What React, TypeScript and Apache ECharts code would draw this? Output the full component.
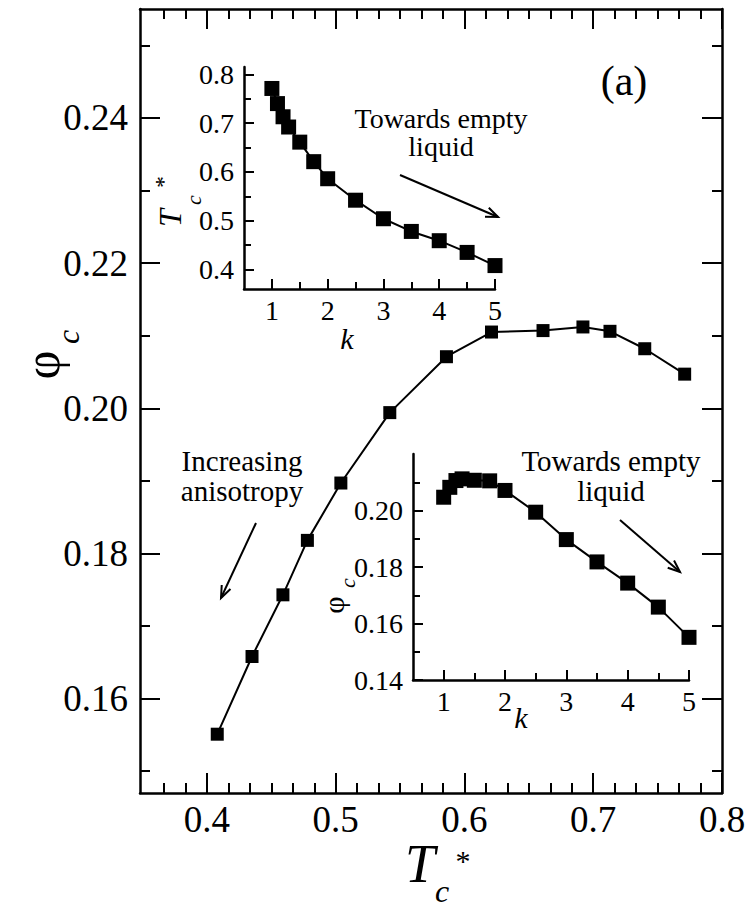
import React, { useEffect, useRef } from "react";
import * as echarts from "echarts";

// ---- data ----
const kValues = [1, 1.1, 1.2, 1.3, 1.5, 1.75, 2, 2.5, 3, 3.5, 4, 4.5, 5];
const tcValues = [0.771, 0.74, 0.713, 0.692, 0.661, 0.621, 0.586, 0.542, 0.504, 0.478, 0.459, 0.435, 0.408];
const phiValues = [0.2047, 0.2082, 0.2106, 0.2112, 0.2107, 0.2105, 0.2071, 0.1994, 0.1897, 0.1818, 0.1743, 0.1658, 0.1551];

// ---- ticks ----
const mainXMajor = [0.4, 0.5, 0.6, 0.7, 0.8];
const mainYMajor = [0.16, 0.18, 0.2, 0.22, 0.24];
const mainYMinor = [0.15, 0.17, 0.19, 0.21, 0.23, 0.25];
const kMajor = [1, 2, 3, 4, 5];
const kMinor = [1.5, 2.5, 3.5, 4.5];
const inset1YMajor = [0.4, 0.5, 0.6, 0.7, 0.8];
const inset1YMinor = [0.45, 0.55, 0.65, 0.75];
const inset2YMajor = [0.14, 0.16, 0.18, 0.2];
const inset2YMinor = [0.15, 0.17, 0.19, 0.21];

const mainXMinor: number[] = [];
for (let n = -2; n <= 24; n++) {
  if (n % 6 !== 0) mainXMinor.push(0.4 + n / 60);
}

const SERIF = "'Liberation Serif', 'DejaVu Serif', serif";
const BLACK = "#000";

function axis(
  dim: "x" | "y",
  gridIndex: number,
  position: string,
  min: number,
  max: number,
  ticks: number[],
  tickLen: number,
  showLine: boolean,
  label: null | { digits: number; size: number; margin: number }
) {
  const a: any = {
    type: "value",
    gridIndex,
    position,
    min,
    max,
    splitLine: { show: false },
    axisLine: { show: showLine, onZero: false, lineStyle: { color: BLACK, width: 2.5 } },
    axisTick: {
      show: true,
      inside: true,
      length: tickLen,
      customValues: ticks,
      lineStyle: { color: BLACK, width: 2 },
    },
    axisLabel: label
      ? {
          show: true,
          customValues: ticks,
          margin: label.margin,
          fontSize: label.size,
          fontFamily: SERIF,
          color: BLACK,
          formatter: (v: number) => (label.digits === 0 ? String(Math.round(v)) : v.toFixed(label.digits)),
        }
      : { show: false },
  };
  return a;
}

function arrow(x1: number, y1: number, x2: number, y2: number, h = 13) {
  const ang = Math.atan2(y2 - y1, x2 - x1);
  const sp = 0.38;
  return [
    { type: "line", shape: { x1, y1, x2, y2 }, style: { stroke: BLACK, lineWidth: 2 } },
    {
      type: "polyline",
      shape: {
        points: [
          [x2 - h * Math.cos(ang - sp), y2 - h * Math.sin(ang - sp)],
          [x2, y2],
          [x2 - h * Math.cos(ang + sp), y2 - h * Math.sin(ang + sp)],
        ],
      },
      style: { stroke: BLACK, lineWidth: 2, fill: "none" },
    },
  ];
}

function txt(text: string, x: number, y: number, size: number, opts: any = {}) {
  return {
    type: "text",
    x,
    y,
    rotation: opts.rotation || 0,
    style: {
      text,
      fontSize: size,
      fontFamily: SERIF,
      fontStyle: opts.italic ? "italic" : "normal",
      fill: BLACK,
      align: "center",
      verticalAlign: "middle",
      lineHeight: opts.lineHeight || size,
    },
  };
}

export default function App() {
  const ref = useRef<HTMLDivElement>(null);
  useEffect(() => {
    document.body.style.margin = "0";
    const chart = echarts.init(ref.current!, undefined, { renderer: "svg" });
    const mainData = tcValues.map((t, i) => [t, phiValues[i]]);
    const in1Data = kValues.map((k, i) => [k, tcValues[i]]);
    const in2Data = kValues.map((k, i) => [k, phiValues[i]]);

    const series = (data: number[][], xi: number, yi: number, size: number) => ({
      type: "line",
      xAxisIndex: xi,
      yAxisIndex: yi,
      data,
      symbol: "rect",
      symbolSize: size,
      itemStyle: { color: BLACK },
      lineStyle: { color: BLACK, width: 2 },
      z: 5,
    });

    chart.setOption({
      animation: false,
      backgroundColor: "#fff",
      grid: [
        { left: 140, top: 9, width: 582, height: 784, containLabel: false },
        { left: 244, top: 67, width: 251, height: 222, containLabel: false },
        { left: 413, top: 454, width: 276, height: 226, containLabel: false },
      ],
      xAxis: [
        axis("x", 0, "bottom", 0.348, 0.8, mainXMajor, 20, true, { digits: 1, size: 37, margin: 8 }),
        axis("x", 0, "bottom", 0.348, 0.8, mainXMinor, 10, false, null),
        axis("x", 0, "top", 0.348, 0.8, mainXMajor, 20, true, null),
        axis("x", 0, "top", 0.348, 0.8, mainXMinor, 10, false, null),
        axis("x", 1, "bottom", 0.5, 5, kMajor, 10, true, { digits: 0, size: 28, margin: 7 }),
        axis("x", 1, "bottom", 0.5, 5, kMinor, 7, false, null),
        axis("x", 2, "bottom", 0.5, 5, kMajor, 10, true, { digits: 0, size: 28, margin: 7 }),
        axis("x", 2, "bottom", 0.5, 5, kMinor, 7, false, null),
      ],
      yAxis: [
        axis("y", 0, "left", 0.147, 0.255, mainYMajor, 20, true, { digits: 2, size: 37, margin: 12 }),
        axis("y", 0, "left", 0.147, 0.255, mainYMinor, 10, false, null),
        axis("y", 0, "right", 0.147, 0.255, mainYMajor, 20, true, null),
        axis("y", 0, "right", 0.147, 0.255, mainYMinor, 10, false, null),
        axis("y", 1, "left", 0.36, 0.815, inset1YMajor, 10, true, { digits: 1, size: 28, margin: 10 }),
        axis("y", 1, "left", 0.36, 0.815, inset1YMinor, 7, false, null),
        axis("y", 2, "left", 0.14, 0.22, inset2YMajor, 10, true, { digits: 2, size: 28, margin: 10 }),
        axis("y", 2, "left", 0.14, 0.22, inset2YMinor, 7, false, null),
      ],
      series: [series(mainData, 0, 0, 13), series(in1Data, 4, 4, 15), series(in2Data, 6, 6, 15)],
      graphic: [
        txt("(a)", 624, 81, 42),
        txt("Increasing\nanisotropy", 242, 476, 29, { lineHeight: 30 }),
        ...arrow(256, 523, 221, 598),
        txt("Towards empty\nliquid", 441, 132, 28, { lineHeight: 28 }),
        ...arrow(400, 175, 498, 217),
        txt("Towards empty\nliquid", 611, 476, 29, { lineHeight: 30 }),
        ...arrow(620, 520, 680, 572),
        // main x title T_c*
        txt("T", 420, 864, 54, { italic: true }),
        txt("c", 442, 891, 32, { italic: true, lineHeight: 28 }),
        txt("*", 463, 860, 30, { lineHeight: 24 }),
        // main y title phi_c (rotated)
        txt("φ", 42, 365, 50, { rotation: Math.PI / 2 }),
        txt("c", 68, 337, 32, { italic: true, rotation: Math.PI / 2 }),
        // inset 1 titles
        txt("k", 347, 338, 30, { italic: true }),
        txt("T", 170, 218, 32, { italic: true, rotation: Math.PI / 2 }),
        txt("c", 193, 200, 22, { italic: true, rotation: Math.PI / 2 }),
        txt("*", 163, 182, 24, { rotation: Math.PI / 2 }),
        // inset 2 titles
        txt("k", 521, 717, 30, { italic: true }),
        txt("φ", 333, 605, 30, { rotation: Math.PI / 2 }),
        txt("c", 347, 583, 22, { italic: true, rotation: Math.PI / 2 }),
      ],
    });
    return () => chart.dispose();
  }, []);
  return <div ref={ref} style={{ width: 749, height: 909 }} />;
}
